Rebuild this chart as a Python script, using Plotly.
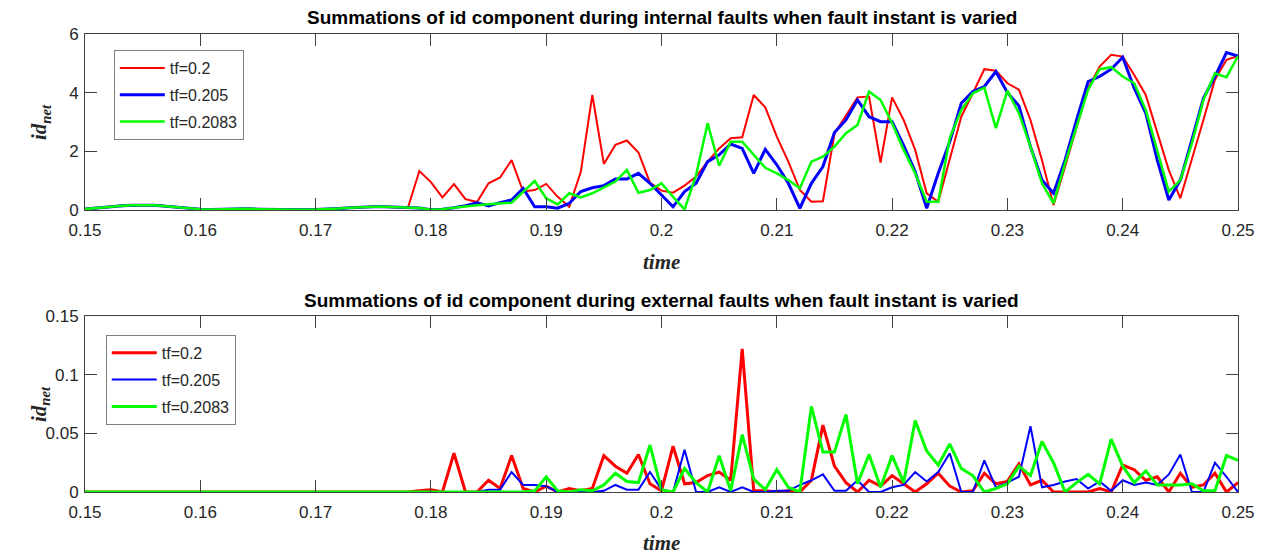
import numpy as np
import plotly.graph_objects as go

# sample instants (1 ms step)
time = np.round(np.linspace(0.15, 0.25, 101), 3)

# internal faults: summed id component for three fault instants
int_tf_0200 = [
    0.03, 0.07, 0.11, 0.14, 0.16, 0.17, 0.16, 0.13, 0.09, 0.05,
    0.03, 0.02, 0.03, 0.04, 0.04, 0.03, 0.02, 0.01, 0.01, 0.01,
    0.02, 0.03, 0.05, 0.08, 0.10, 0.11, 0.11, 0.10, 0.07, 1.33,
    0.95, 0.43, 0.88, 0.37, 0.27, 0.91, 1.11, 1.70, 0.63, 0.68,
    0.89, 0.45, 0.11, 1.30, 3.92, 1.57, 2.22, 2.37, 1.96, 0.93,
    0.66, 0.59, 0.83, 1.14, 1.65, 2.10, 2.45, 2.48, 3.92, 3.50,
    2.50, 1.65, 0.68, 0.28, 0.30, 2.60, 3.20, 3.84, 3.87, 1.62,
    3.84, 3.07, 2.05, 0.57, 0.28, 1.70, 3.18, 3.98, 4.80, 4.75,
    4.32, 4.10, 3.07, 1.70, 0.17, 1.48, 2.84, 4.15, 4.89, 5.29,
    5.23, 4.60, 3.92, 2.60, 1.36, 0.40, 1.70, 3.07, 4.44, 5.12,
    5.25,
]
int_tf_0205 = [
    0.03, 0.07, 0.11, 0.14, 0.16, 0.17, 0.16, 0.13, 0.09, 0.05,
    0.03, 0.02, 0.03, 0.04, 0.04, 0.03, 0.02, 0.01, 0.01, 0.01,
    0.02, 0.03, 0.05, 0.08, 0.10, 0.11, 0.11, 0.10, 0.10, 0.07,
    0.01, 0.03, 0.08, 0.15, 0.25, 0.14, 0.25, 0.34, 0.74, 0.11,
    0.11, 0.06, 0.23, 0.63, 0.76, 0.83, 1.06, 1.06, 1.25, 0.91,
    0.51, 0.11, 0.63, 0.91, 1.65, 1.88, 2.25, 2.10, 1.25, 2.07,
    1.54, 0.91, 0.06, 0.91, 1.48, 2.64, 3.07, 3.75, 3.18, 3.01,
    3.01, 2.20, 1.31, 0.06, 1.25, 2.33, 3.64, 4.04, 4.21, 4.72,
    4.00, 3.55, 2.16, 1.02, 0.57, 1.70, 3.07, 4.38, 4.55, 4.80,
    5.21, 4.15, 3.30, 1.70, 0.34, 1.02, 2.39, 3.81, 4.55, 5.37,
    5.25,
]
int_tf_02083 = [
    0.03, 0.07, 0.11, 0.14, 0.16, 0.17, 0.16, 0.13, 0.09, 0.05,
    0.03, 0.02, 0.03, 0.04, 0.04, 0.03, 0.02, 0.01, 0.01, 0.01,
    0.02, 0.03, 0.05, 0.08, 0.10, 0.11, 0.11, 0.10, 0.10, 0.07,
    0.01, 0.03, 0.08, 0.11, 0.16, 0.20, 0.22, 0.25, 0.62, 0.99,
    0.40, 0.19, 0.57, 0.43, 0.57, 0.76, 0.97, 1.37, 0.59, 0.68,
    0.91, 0.45, 0.02, 1.19, 2.96, 1.51, 2.33, 2.33, 1.88, 1.44,
    1.25, 1.02, 0.74, 1.65, 1.82, 2.16, 2.62, 2.90, 4.04, 3.75,
    2.96, 2.05, 1.25, 0.28, 0.28, 2.45, 3.41, 3.98, 4.17, 2.79,
    4.07, 3.30, 2.16, 0.91, 0.23, 1.59, 2.84, 4.10, 4.80, 4.87,
    4.55, 4.32, 3.41, 2.05, 0.63, 1.02, 2.27, 3.75, 4.66, 4.53,
    5.25,
]

# external faults: summed id component for the same fault instants
ext_tf_0200 = [
    0.0, 0.0, 0.0, 0.0, 0.0, 0.0, 0.0, 0.0, 0.0, 0.0,
    0.0, 0.0, 0.0, 0.0, 0.0, 0.0, 0.0, 0.0, 0.0, 0.0,
    0.0, 0.0, 0.0, 0.0, 0.0, 0.0, 0.0, 0.0, 0.0, 0.001,
    0.002, 0.0, 0.033, 0.0, 0.0, 0.010, 0.003, 0.031, 0.003, 0.0,
    0.005, 0.0, 0.003, 0.001, 0.003, 0.031, 0.022, 0.016, 0.032, 0.007,
    0.001, 0.039, 0.007, 0.008, 0.014, 0.017, 0.010, 0.122, 0.001, 0.001,
    0.0, 0.001, 0.0, 0.010, 0.057, 0.022, 0.008, 0.0, 0.010, 0.005,
    0.014, 0.007, 0.0, 0.007, 0.016, 0.005, 0.0, 0.001, 0.016, 0.007,
    0.009, 0.024, 0.006, 0.010, 0.0, 0.0, 0.0, 0.0, 0.003, 0.0,
    0.023, 0.019, 0.010, 0.013, 0.0, 0.016, 0.004, 0.006, 0.016, 0.0,
    0.008,
]
ext_tf_0205 = [
    0.0, 0.0, 0.0, 0.0, 0.0, 0.0, 0.0, 0.0, 0.0, 0.0,
    0.0, 0.0, 0.0, 0.0, 0.0, 0.0, 0.0, 0.0, 0.0, 0.0,
    0.0, 0.0, 0.0, 0.0, 0.0, 0.0, 0.0, 0.0, 0.0, 0.0,
    0.0, 0.0, 0.0, 0.0, 0.0, 0.002, 0.002, 0.017, 0.006, 0.006,
    0.005, 0.0, 0.0, 0.0, 0.0, 0.001, 0.006, 0.002, 0.002, 0.017,
    0.002, 0.0, 0.036, 0.0, 0.0, 0.004, 0.0, 0.004, 0.0, 0.0,
    0.001, 0.001, 0.006, 0.010, 0.015, 0.001, 0.001, 0.010, 0.0, 0.0,
    0.004, 0.006, 0.017, 0.009, 0.017, 0.033, 0.0, 0.0, 0.027, 0.004,
    0.008, 0.013, 0.056, 0.004, 0.006, 0.009, 0.011, 0.003, 0.009, 0.001,
    0.010, 0.006, 0.008, 0.006, 0.015, 0.032, 0.0, 0.0, 0.025, 0.013,
    0.0,
]
ext_tf_02083 = [
    0.0, 0.0, 0.0, 0.0, 0.0, 0.0, 0.0, 0.0, 0.0, 0.0,
    0.0, 0.0, 0.0, 0.0, 0.0, 0.0, 0.0, 0.0, 0.0, 0.0,
    0.0, 0.0, 0.0, 0.0, 0.0, 0.0, 0.0, 0.0, 0.0, 0.0,
    0.0, 0.0, 0.0, 0.0, 0.0, 0.0, 0.0, 0.0, 0.0, 0.001,
    0.013, 0.001, 0.0, 0.002, 0.001, 0.006, 0.016, 0.009, 0.008, 0.040,
    0.002, 0.0, 0.020, 0.008, 0.0, 0.031, 0.001, 0.049, 0.011, 0.002,
    0.019, 0.004, 0.0, 0.073, 0.034, 0.034, 0.066, 0.007, 0.032, 0.004,
    0.031, 0.008, 0.061, 0.035, 0.023, 0.041, 0.020, 0.014, 0.0, 0.003,
    0.007, 0.022, 0.014, 0.043, 0.025, 0.0, 0.008, 0.015, 0.007, 0.045,
    0.022, 0.008, 0.018, 0.006, 0.006, 0.006, 0.007, 0.001, 0.001, 0.031,
    0.027,
]

series_names = ["tf=0.2", "tf=0.205", "tf=0.2083"]
series_colors = ["#ff0000", "#0000ff", "#00ff00"]
top_widths = [2, 3, 2.5]
bottom_widths = [3, 2, 3]

panel_titles = [
    "Summations of id component during internal faults when fault instant is varied",
    "Summations of id component during external faults when fault instant is varied",
]

fig = go.Figure()

for i, (name, color, width, ys) in enumerate(zip(series_names, series_colors, top_widths,
                                                 [int_tf_0200, int_tf_0205, int_tf_02083])):
    fig.add_trace(go.Scatter(x=time, y=ys, mode="lines", name=name,
                             line=dict(color=color, width=width),
                             legendgroup=f"int{i}",
                             xaxis="x", yaxis="y", legend="legend"))

for i, (name, color, width, ys) in enumerate(zip(series_names, series_colors, bottom_widths,
                                                 [ext_tf_0200, ext_tf_0205, ext_tf_02083])):
    fig.add_trace(go.Scatter(x=time, y=ys, mode="lines", name=name,
                             line=dict(color=color, width=width),
                             legendgroup=f"ext{i}",
                             xaxis="x2", yaxis="y2", legend="legend2"))

tick_font = dict(family="Liberation Sans, Arial, sans-serif", size=17, color="#262626")
axis_common = dict(
    showgrid=False, zeroline=False, showline=True, linecolor="#404040", linewidth=1,
    mirror="ticks", ticks="inside", ticklen=12, tickcolor="#404040", tickwidth=1,
    tickfont=tick_font,
)
x_ticks = [0.15, 0.16, 0.17, 0.18, 0.19, 0.2, 0.21, 0.22, 0.23, 0.24, 0.25]
x_labels = ["0.15", "0.16", "0.17", "0.18", "0.19", "0.2", "0.21", "0.22", "0.23", "0.24", "0.25"]

TOP_DOMAIN = [0.6157, 1.0]
BOTTOM_DOMAIN = [0.0, 0.3843]

legend_common = dict(
    bgcolor="white", bordercolor="#7f7f7f", borderwidth=1,
    font=dict(family="Liberation Sans, Arial, sans-serif", size=16, color="#262626"),
    xanchor="left", yanchor="top", tracegroupgap=3, itemwidth=45,
)

label_font = dict(family="Liberation Serif, Times New Roman, serif", size=21, color="#262626")
title_font = dict(family="Liberation Sans, Arial, sans-serif", size=19, color="black")

fig.update_layout(
    width=1267, height=554,
    margin=dict(l=85, r=29, t=34, b=62),
    paper_bgcolor="white", plot_bgcolor="white",
    showlegend=True,
    xaxis=dict(domain=[0, 1], anchor="y", range=[0.15, 0.25], tickvals=x_ticks,
               ticktext=x_labels, ticklabelstandoff=5, **axis_common),
    yaxis=dict(domain=TOP_DOMAIN, anchor="x", range=[0, 6], tickvals=[0, 2, 4, 6],
               ticklabelstandoff=2, **axis_common),
    xaxis2=dict(domain=[0, 1], anchor="y2", range=[0.15, 0.25], tickvals=x_ticks,
                ticktext=x_labels, ticklabelstandoff=5, **axis_common),
    yaxis2=dict(domain=BOTTOM_DOMAIN, anchor="x2", range=[0, 0.15],
                tickvals=[0, 0.05, 0.1, 0.15], ticktext=["0", "0.05", "0.1", "0.15"],
                ticklabelstandoff=2, **axis_common),
    legend=dict(x=0.025, y=0.965, **legend_common),
    legend2=dict(x=0.018, y=0.343, **legend_common),
    annotations=[
        dict(text="<b>" + panel_titles[0] + "</b>", xref="paper", yref="paper",
             x=0.5, y=1.035, xanchor="center", yanchor="middle", showarrow=False,
             font=title_font),
        dict(text="<b>" + panel_titles[1] + "</b>", xref="paper", yref="paper",
             x=0.5, y=0.419, xanchor="center", yanchor="middle", showarrow=False,
             font=title_font),
        dict(text="<b><i>time</i></b>", xref="paper", yref="paper",
             x=0.5, y=0.502, xanchor="center", yanchor="middle", showarrow=False,
             font=label_font),
        dict(text="<b><i>time</i></b>", xref="paper", yref="paper",
             x=0.5, y=-0.111, xanchor="center", yanchor="middle", showarrow=False,
             font=label_font),
        dict(text="<b><i>id<sub>net</sub></i></b>", xref="paper", yref="paper",
             x=-0.039, y=0.808, xanchor="center", yanchor="middle", showarrow=False,
             textangle=-90, font=label_font),
        dict(text="<b><i>id<sub>net</sub></i></b>", xref="paper", yref="paper",
             x=-0.039, y=0.192, xanchor="center", yanchor="middle", showarrow=False,
             textangle=-90, font=label_font),
    ],
)

fig.write_html("out.html")
